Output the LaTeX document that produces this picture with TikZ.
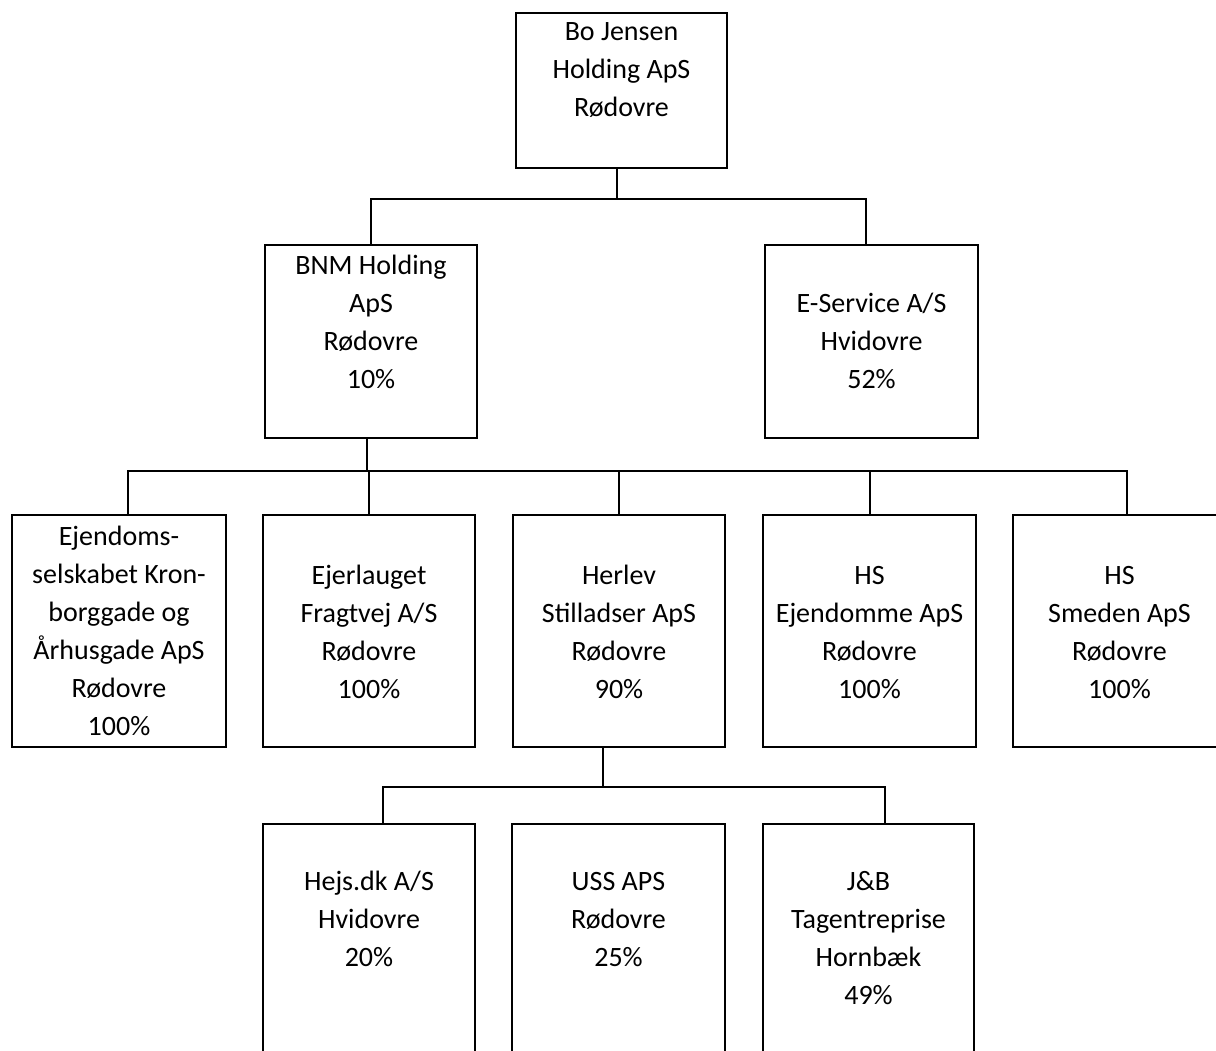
\documentclass[tikz,border=0pt]{standalone}
\usepackage{fontspec}
\setmainfont{Carlito}
\begin{document}
\begin{tikzpicture}[x=0.5pt,y=-0.5pt,
  box/.style={draw=black, line width=1.25pt, rectangle, inner sep=0pt},
  txt/.style={align=center, inner sep=0pt, anchor=base, font=\fontsize{14}{19}\selectfont},
  conn/.style={draw=black, line width=1pt}]
\useasboundingbox (0,0) rectangle (1216,1050);
\fill[white] (0,0) rectangle (1216,1050);
\clip (0,0) rectangle (1216,1050);
% boxes
\node[box, minimum width=105.5pt, minimum height=77.5pt] (top) at (621.5,90.5) {};
\node[box, minimum width=106pt, minimum height=96.5pt] (bnm) at (371,341.5) {};
\node[box, minimum width=106.5pt, minimum height=96.5pt] (es) at (871.5,341.5) {};
\node[box, minimum width=107pt, minimum height=116pt] (r1) at (119,631) {};
\node[box, minimum width=106pt, minimum height=116pt] (r2) at (369,631) {};
\node[box, minimum width=106pt, minimum height=116pt] (r3) at (619,631) {};
\node[box, minimum width=106.5pt, minimum height=116pt] (r4) at (869.5,631) {};
\node[box, minimum width=106.5pt, minimum height=116pt] (r5) at (1119.5,631) {};
\node[box, minimum width=106pt, minimum height=120pt] (ra) at (369,944) {};
\node[box, minimum width=106.5pt, minimum height=120pt] (rb) at (618.5,944) {};
\node[box, minimum width=105.5pt, minimum height=120pt] (rc) at (868.5,944) {};
% texts (base anchor = baseline of last line)
\node[txt] (ttop) at ([yshift=-52.5pt]top.north) {Bo Jensen\\Holding ApS\\Rødovre};
\node[txt] (tbnm) at ([yshift=-72.5pt]bnm.north) {BNM Holding\\ApS\\Rødovre\\10\%};
\node[txt] (tes) at ([yshift=-72.5pt]es.north) {E-Service A/S\\Hvidovre\\52\%};
\node[txt] (tr1) at ([yshift=-111pt]r1.north) {Ejendoms-\\selskabet Kron-\\borggade og\\Århusgade ApS\\Rødovre\\100\%};
\node[txt] (tr2) at ([yshift=-92.5pt]r2.north) {Ejerlauget\\Fragtvej A/S\\Rødovre\\100\%};
\node[txt] (tr3) at ([yshift=-92.5pt]r3.north) {Herlev\\Stilladser ApS\\Rødovre\\90\%};
\node[txt] (tr4) at ([yshift=-92.5pt]r4.north) {HS\\Ejendomme ApS\\Rødovre\\100\%};
\node[txt] (tr5) at ([yshift=-92.5pt]r5.north) {HS\\Smeden ApS\\Rødovre\\100\%};
\node[txt] (tra) at ([yshift=-72pt]ra.north) {Hejs.dk A/S\\Hvidovre\\20\%};
\node[txt] (trb) at ([yshift=-72pt]rb.north) {USS APS\\Rødovre\\25\%};
\node[txt] (trc) at ([yshift=-91pt]rc.north) {J\&B\\Tagentreprise\\Hornbæk\\49\%};
% connectors
\draw[conn] ([xshift=-2.5pt]top.south) -- ++(0,30) coordinate (j1);
\draw[conn] (bnm.north) |- (j1) -| ([xshift=-2.75pt]es.north);
\draw[conn] ([xshift=-2pt]bnm.south) -- ++(0,32) coordinate (j2);
\draw[conn] ([xshift=4.5pt]r1.north) |- (j2) -| ([xshift=3.75pt]r5.north);
\draw[conn] (r2.north) -- (r2.north |- j2);
\draw[conn] (r3.north) -- (r3.north |- j2);
\draw[conn] (r4.north) -- (r4.north |- j2);
\draw[conn] ([xshift=-8pt]r3.south) -- ++(0,39) coordinate (j3);
\draw[conn] ([xshift=7pt]ra.north) |- (j3) -| ([xshift=8.25pt]rc.north);
\end{tikzpicture}
\end{document}
